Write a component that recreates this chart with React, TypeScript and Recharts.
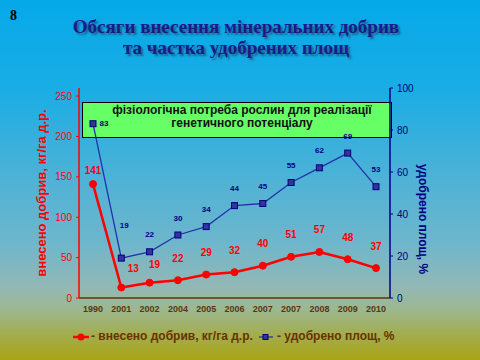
import React from 'react';
import { LineChart, Line, XAxis, YAxis, Legend, Label } from 'recharts';

const years = ['1990', '2001', '2002', '2004', '2005', '2006', '2007', '2007', '2008', '2009', '2010'];
const fertilizerApplied = [141, 13, 19, 22, 29, 32, 40, 51, 57, 48, 37];
const fertilizedShare = [83, 19, 22, 30, 34, 44, 45, 55, 62, 69, 53];
const leftTicks = [0, 50, 100, 150, 200, 250];
const rightTicks = [0, 20, 40, 60, 80, 100];

const data = years.map((year, i) => ({
  year,
  applied: fertilizerApplied[i],
  share: fertilizedShare[i],
}));

const SANS = "'Liberation Sans', Arial, sans-serif";
const SERIF = "'Liberation Serif', 'Times New Roman', serif";
const RED = '#ff0000';
const NAVY = '#000080';
const BROWN = '#663300';

const RedLabel = (props: any) => {
  const { x, y, value, index } = props;
  let dx = 0;
  let dy = -22;
  if (index === 0) dy = -14;
  if (index === 1) { dx = 12; dy = -19; }
  if (index === 2) { dx = 5; dy = -18; }
  return (
    <text x={x + dx} y={y + dy} textAnchor="middle" dominantBaseline="central"
      fill={RED} fontSize={10} fontWeight="bold" fontFamily={SANS}>{value}</text>
  );
};

const BlueLabel = (props: any) => {
  const { x, y, value, index } = props;
  let dx = 0;
  let dy = -17;
  if (index === 0) { dx = 11; dy = 0; }
  if (index === 1) { dx = 3; dy = -33; }
  return (
    <text x={x + dx} y={y + dy} textAnchor="middle" dominantBaseline="central"
      fill={NAVY} fontSize={8} fontWeight="bold" fontFamily={SANS}>{value}</text>
  );
};

const SquareDot = (props: any) => {
  const { cx, cy, index } = props;
  if (cx == null || cy == null) return null;
  return <rect key={'sq' + index} x={cx - 3} y={cy - 3} width={6} height={6} fill="#333399" stroke={NAVY} strokeWidth={1} />;
};

const LeftTitle = (props: any) => {
  const vb = props.viewBox || {};
  const x = vb.x + vb.width / 2 + 1;
  const y = vb.y + vb.height / 2;
  return (
    <text x={x} y={y} transform={`rotate(-90, ${x}, ${y})`} textAnchor="middle" dominantBaseline="central"
      fill={RED} fontSize={13} fontWeight="bold" fontFamily={SANS}>
      внесено добрив, кг/га д.р.
    </text>
  );
};

const RightTitle = (props: any) => {
  const vb = props.viewBox || {};
  const x = vb.x + 33;
  const y = vb.y + vb.height / 2 + 26;
  return (
    <text x={x} y={y} transform={`rotate(90, ${x}, ${y})`} textAnchor="middle" dominantBaseline="central"
      fill={NAVY} fontSize={12} fontWeight="bold" fontFamily={SANS}>
      удобрено площ, %
    </text>
  );
};

const LegendContent = () => (
  <div style={{ position: 'relative', width: 480, height: 20, fontFamily: SANS, fontSize: 12, fontWeight: 'bold', color: BROWN }}>
    <svg style={{ position: 'absolute', left: 71, top: 4 }} width={18} height={10}>
      <line x1={1} y1={5} x2={17} y2={5} stroke={RED} strokeWidth={2.5} />
      <circle cx={9} cy={5} r={3.5} fill={RED} />
    </svg>
    <span style={{ position: 'absolute', left: 90, top: 1, whiteSpace: 'nowrap' }}>- внесено добрив, кг/га д.р.</span>
    <svg style={{ position: 'absolute', left: 257, top: 4 }} width={16} height={10}>
      <line x1={1} y1={5} x2={15} y2={5} stroke="#2233aa" strokeWidth={1.3} />
      <rect x={5} y={2.5} width={5} height={5} fill="#333399" stroke={NAVY} strokeWidth={1} />
    </svg>
    <span style={{ position: 'absolute', left: 276, top: 1, whiteSpace: 'nowrap' }}>- удобрено площ, %</span>
  </div>
);

export default function App() {
  return (
    <div style={{
      position: 'absolute', left: 0, top: 0, width: 480, height: 360, overflow: 'hidden',
      background: 'linear-gradient(to bottom, #05a9e9 0%, #1aade4 25%, #4fb2d6 50%, #6db6cc 67%, #93b8b4 80%, #9db88f 86%, #a2ae58 92%, #a9a412 100%)',
    }}>
      <div style={{ position: 'absolute', left: 10, top: 8, fontFamily: SERIF, fontSize: 14, fontWeight: 'bold', color: '#000' }}>8</div>
      <div style={{
        position: 'absolute', left: 0, top: 16, width: 472, textAlign: 'center', fontFamily: SERIF,
        fontSize: 19, fontWeight: 'bold', lineHeight: '21px', color: '#1a1a8c',
        textShadow: '2px 2px 2px rgba(40,40,60,0.55)',
      }}>
        <div>Обсяги внесення мінеральних добрив</div>
        <div>та частка удобрених площ</div>
      </div>
      <div style={{
        position: 'absolute', left: 82, top: 102, width: 310, height: 36, boxSizing: 'border-box',
        background: '#66ff66', border: '1px solid #000', paddingTop: 1, paddingLeft: 10,
        textAlign: 'center', fontFamily: SANS, fontSize: 12, fontWeight: 'bold', lineHeight: '13px', color: '#111',
      }}>
        <div>фізіологічна потреба рослин для реалізації</div>
        <div>генетичного потенціалу</div>
      </div>
      <div style={{ position: 'absolute', left: 0, top: 0 }}>
        <LineChart width={480} height={360} data={data} margin={{ top: 88, right: 0, left: 1, bottom: 12 }}>
          <XAxis dataKey="year" height={30} axisLine={{ stroke: BROWN, strokeWidth: 1.5 }} tickLine={false}
            padding={{ left: 14, right: 14 }}
            tick={{ fill: '#5c3510', fontSize: 9, fontWeight: 'bold', fontFamily: SANS }} interval={0} />
          <YAxis yAxisId="left" orientation="left" width={78} domain={[0, 260]} ticks={leftTicks}
            axisLine={{ stroke: RED, strokeWidth: 1.5 }} tickLine={{ stroke: RED }} tickSize={3} tickMargin={4}
            tick={{ fill: RED, fontSize: 10, fontFamily: SANS }}>
            <Label content={<LeftTitle />} />
          </YAxis>
          <YAxis yAxisId="right" orientation="right" width={90} domain={[0, 100]} ticks={rightTicks}
            axisLine={{ stroke: NAVY, strokeWidth: 1.5 }} tickLine={{ stroke: NAVY }} tickSize={3} tickMargin={4}
            tick={{ fill: NAVY, fontSize: 10, fontFamily: SANS }}>
            <Label content={<RightTitle />} />
          </YAxis>
          <Legend verticalAlign="bottom" height={20} content={<LegendContent />} />
          <Line yAxisId="right" type="linear" dataKey="share" stroke="#2233aa" strokeWidth={1.3}
            dot={<SquareDot />} activeDot={false} label={<BlueLabel />} isAnimationActive={false} />
          <Line yAxisId="left" type="linear" dataKey="applied" stroke={RED} strokeWidth={2.5}
            dot={{ r: 3.5, fill: RED, stroke: RED, strokeWidth: 1 }} activeDot={false} label={<RedLabel />} isAnimationActive={false} />
        </LineChart>
      </div>
    </div>
  );
}
